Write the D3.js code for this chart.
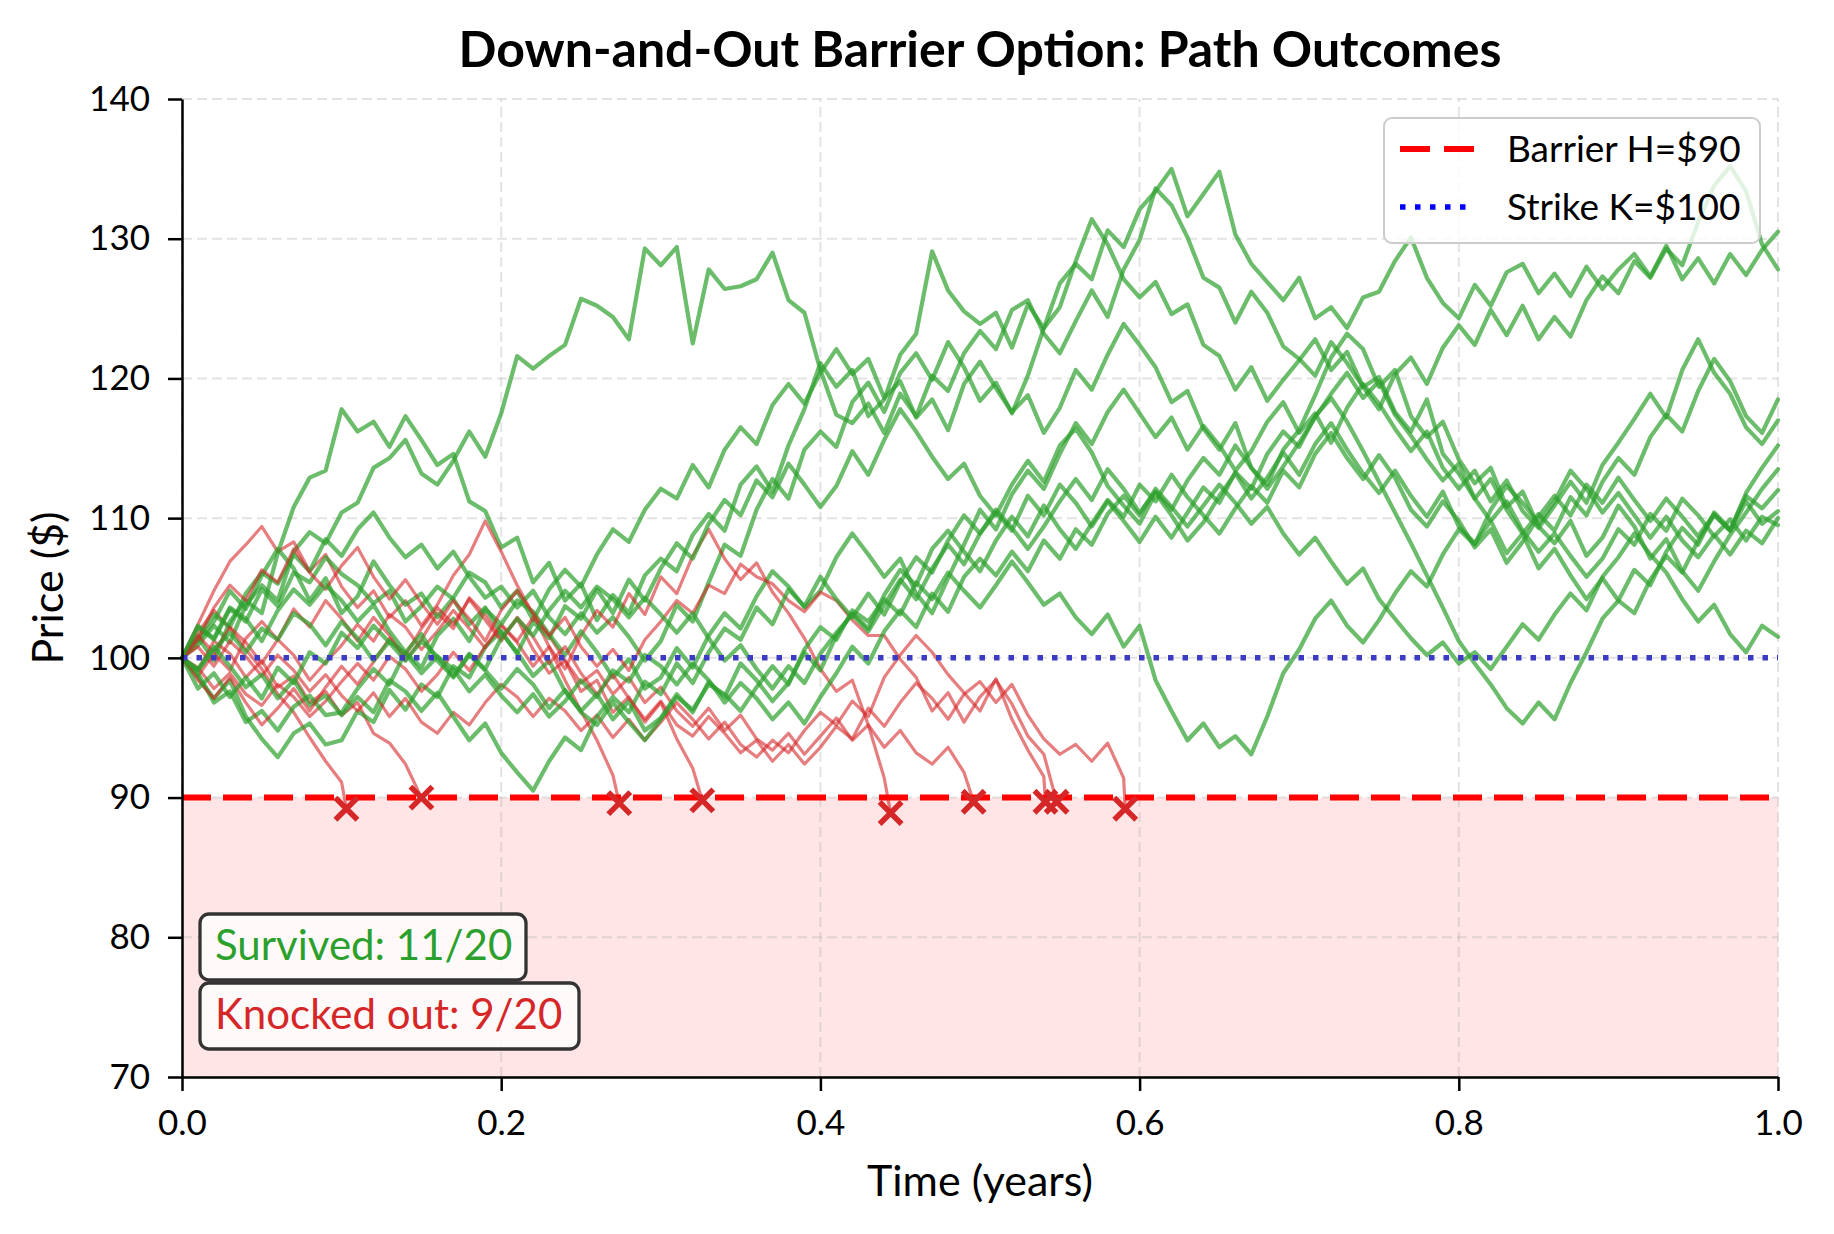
<!DOCTYPE html>
<html>
<head>
<meta charset="utf-8">
<script src="https://cdn.jsdelivr.net/npm/d3@7"></script>
<style>
  body { margin: 0; background: #fff; }
  svg { display: block; font-family: Lato, "DejaVu Sans", sans-serif; }
</style>
</head>
<body>
<svg id="chart"></svg>
<script>
const g1 = [100, 101.5, 99.8, 102.6, 104.1, 103.2, 107.5, 110.8, 112.9, 113.4,
  117.8, 116.2, 116.9, 115.1, 117.3, 115.6, 113.8, 114.6, 111.2, 110.5,
  107.9, 108.6, 105.4, 106.8, 104.1, 105.3, 102.7, 104.5, 103.2, 105.9,
  107.1, 106.2, 108.8, 110.3, 109.1, 112.4, 113.7, 111.9, 115.2, 117.8,
  121.1, 119.4, 120.6, 117.3, 118.5, 121.7, 123.2, 129.1, 126.3, 124.8,
  123.9, 124.7, 122.2, 125.3, 123.6, 126.8, 128.2, 127.1, 130.6, 129.4,
  132.1, 133.4, 135.0, 131.6, 133.2, 134.8, 130.3, 128.2, 126.9, 125.6,
  127.2, 124.3, 125.1, 123.6, 125.8, 126.2, 128.4, 130.1, 127.2, 125.4,
  124.3, 126.7, 125.2, 127.6, 128.2, 126.1, 127.5, 125.9, 128.0, 126.4,
  127.8, 128.9, 127.3, 129.5, 127.1, 128.6, 126.8, 128.9, 127.4, 129.2,
  130.5];
const g2 = [100, 100.9, 102.3, 101.1, 103.8, 105.2, 104.1, 107.6, 109.0, 108.2,
  110.4, 111.1, 113.6, 114.3, 115.6, 113.2, 112.4, 114.1, 116.2, 114.4,
  117.5, 121.6, 120.7, 121.6, 122.4, 125.7, 125.2, 124.4, 122.8, 129.3,
  128.1, 129.4, 122.5, 127.8, 126.4, 126.6, 127.1, 129.0, 125.6, 124.7,
  120.6, 117.4, 116.8, 118.2, 116.1, 118.9, 117.3, 120.2, 119.1, 121.8,
  123.4, 122.1, 124.9, 125.6, 123.2, 121.8, 124.1, 126.3, 124.4, 127.8,
  129.9, 133.6, 132.4, 130.1, 127.2, 126.5, 124.0, 126.2, 124.7, 122.3,
  121.4, 120.2, 122.6, 121.1, 119.4, 117.8, 120.3, 121.5, 119.6, 122.2,
  123.8, 122.4, 124.9, 123.1, 125.2, 122.8, 124.4, 123.0, 125.6, 127.3,
  126.1, 128.4, 127.2, 129.3, 128.1, 131.2, 133.8, 135.2, 133.4, 129.6,
  127.8];
const g3 = [100, 101.4, 103.1, 102.2, 104.6, 106.1, 105.3, 107.4, 106.2, 108.5,
  107.3, 109.2, 110.4, 108.6, 107.2, 108.1, 106.4, 107.6, 105.8, 104.3,
  105.1, 103.6, 104.8, 102.9, 101.7, 103.2, 101.8, 102.9, 101.5, 99.8,
  101.2, 103.8, 102.6, 105.4, 108.1, 107.3, 110.6, 112.8, 111.4, 114.9,
  116.2, 115.1, 118.3, 119.7, 117.6, 120.4, 121.8, 119.9, 122.6, 120.8,
  118.4, 119.7, 117.5, 120.2, 123.6, 125.1, 128.4, 131.4, 129.6, 127.1,
  125.8, 126.9, 124.6, 125.3, 122.4, 121.6, 119.2, 120.8, 118.4, 119.9,
  121.3, 122.8, 120.6, 121.9, 119.4, 120.1, 117.6, 116.2, 118.5, 114.6,
  113.2, 111.4, 112.8, 110.6, 108.9, 110.3, 109.1, 111.5, 110.2, 112.6,
  114.3, 113.1, 115.8, 117.4, 116.2, 119.1, 121.4, 119.8, 117.3, 116.1,
  118.5];
const g4 = [100, 101.2, 102.6, 104.8, 103.5, 105.9, 107.8, 106.4, 104.1, 105.7,
  103.2, 104.4, 106.9, 105.2, 103.8, 104.6, 102.9, 104.3, 106.1, 105.4,
  103.6, 104.8, 102.7, 104.9, 106.3, 105.1, 107.4, 109.2, 108.3, 110.6,
  112.1, 111.4, 113.8, 112.2, 114.9, 116.5, 115.3, 118.1, 119.6, 118.2,
  120.4, 122.1, 120.3, 121.4, 118.6, 119.8, 117.2, 118.5, 116.3, 119.6,
  121.2, 119.3, 117.6, 118.8, 116.1, 117.9, 120.6, 119.2, 121.7, 123.9,
  122.4, 120.8, 118.3, 119.1, 116.4, 114.9, 116.8, 113.6, 112.4, 114.9,
  116.3, 118.8, 121.5, 123.2, 122.1, 119.4, 120.6, 117.3, 115.8, 116.9,
  114.2, 112.5, 113.6, 110.8, 111.9, 109.4, 108.2, 109.8, 107.3, 108.6,
  110.9, 109.4, 107.1, 108.5, 106.2, 104.8, 106.9, 108.8, 110.4, 112.1,
  113.5];
const g5 = [100, 98.6, 97.1, 98.4, 95.8, 94.2, 92.9, 94.6, 95.3, 93.8,
  94.1, 96.2, 95.4, 97.7, 96.3, 98.1, 97.2, 99.4, 98.6, 100.8,
  101.9, 100.3, 102.6, 101.4, 103.7, 102.8, 104.9, 103.2, 105.6, 104.1,
  106.4, 108.2, 107.1, 109.6, 111.3, 110.2, 112.7, 111.5, 113.9, 112.4,
  110.8, 112.3, 114.8, 113.1, 115.6, 117.8, 116.2, 114.4, 112.8, 113.9,
  111.6, 110.2, 112.4, 114.1, 112.6, 115.2, 116.4, 114.7, 112.3, 110.9,
  109.6, 111.8, 110.2, 108.4, 109.7, 111.6, 113.2, 111.4, 112.9, 114.7,
  113.1, 115.3, 116.8, 114.9, 113.2, 111.8, 113.4, 111.6, 110.1, 111.9,
  109.4, 108.2, 109.8, 107.5, 108.9, 106.4, 107.8, 105.9, 104.2, 105.7,
  104.1, 106.3, 105.2, 107.6, 109.3, 108.1, 110.4, 109.2, 111.6, 110.7,
  112.0];
const g6 = [100, 98.9, 96.8, 97.6, 95.4, 96.2, 94.8, 96.5, 97.3, 95.9,
  96.1, 97.8, 99.2, 98.1, 100.4, 99.3, 101.6, 102.8, 101.2, 103.5,
  102.4, 104.1, 103.3, 101.7, 100.2, 101.9, 100.4, 98.6, 99.9, 97.8,
  98.6, 100.7, 99.3, 101.6, 103.2, 102.1, 104.4, 106.2, 105.1, 103.6,
  104.8, 107.2, 108.9, 107.4, 105.8, 107.1, 104.6, 103.2, 105.7, 108.1,
  110.6, 109.2, 111.7, 113.4, 112.1, 114.6, 116.8, 115.3, 117.6, 119.2,
  117.5, 115.8, 117.2, 114.9, 116.6, 115.2, 113.4, 114.8, 116.9, 118.3,
  116.1, 117.5, 115.4, 117.9, 119.6, 118.2, 116.4, 114.8, 116.2, 113.6,
  112.1, 113.4, 111.2, 112.7, 110.5, 109.3, 110.9, 112.6, 111.1, 113.8,
  115.4, 117.1, 118.9, 117.2, 120.6, 122.8, 120.4, 118.9, 116.5, 115.3,
  117.0];
const g7 = [100, 102.2, 101.3, 103.5, 102.6, 104.9, 103.7, 106.1, 105.4, 107.2,
  106.0, 105.2, 103.9, 104.8, 102.6, 103.7, 105.1, 104.2, 102.4, 103.6,
  101.8, 100.4, 98.7, 99.8, 97.6, 96.2, 97.4, 95.6, 96.9, 94.8,
  95.7, 97.4, 96.1, 98.3, 97.2, 99.6, 98.4, 96.9, 98.2, 100.4,
  99.1, 101.6, 103.2, 102.1, 104.5, 106.3, 105.2, 107.8, 109.1, 107.6,
  106.2, 108.4, 110.1, 108.7, 110.9, 109.2, 107.8, 109.6, 111.3, 110.1,
  112.4, 111.2, 113.1, 111.5, 110.2, 108.9, 110.7, 112.3, 111.1, 113.4,
  112.2, 114.6, 116.1, 114.3, 112.8, 114.5, 112.9, 110.6, 109.4, 111.2,
  109.8, 107.9, 109.2, 106.8, 108.3, 110.1, 111.6, 110.2, 112.4, 111.1,
  112.9, 111.3, 109.8, 111.4, 110.1, 108.7, 110.3, 109.1, 111.2, 109.6,
  110.5];
const g8 = [100, 99.2, 100.8, 99.4, 97.9, 98.8, 97.1, 98.4, 96.6, 97.3,
  95.9, 97.2, 96.1, 98.4, 97.6, 96.2, 97.5, 95.8, 94.1, 95.3,
  93.2, 91.8, 90.5, 92.6, 94.3, 93.4, 95.8, 97.2, 96.1, 98.3,
  97.4, 99.6, 98.2, 100.4, 102.1, 101.3, 103.6, 102.4, 104.9, 103.7,
  105.8, 104.2, 102.9, 104.6, 103.1, 105.4, 107.2, 106.1, 108.4, 110.2,
  108.9, 110.6, 109.3, 107.8, 109.4, 111.2, 112.8, 111.3, 113.5, 112.1,
  110.4, 111.9, 110.6, 112.7, 114.3, 113.1, 115.2, 113.6, 112.1, 113.7,
  115.4, 117.2, 118.9, 120.4, 118.6, 119.8, 117.4, 115.9, 114.2, 112.7,
  113.9, 111.4, 109.8, 111.2, 109.1, 107.6, 108.9, 107.3, 105.8, 107.1,
  109.2, 108.1, 110.3, 109.1, 111.4, 110.2, 108.7, 109.9, 108.4, 110.1,
  109.5];
const g9 = [100, 102.3, 101.4, 103.6, 102.8, 101.2, 103.4, 104.9, 103.8, 105.2,
  104.1, 102.6, 103.8, 101.9, 100.4, 101.7, 99.8, 98.6, 100.2, 99.1,
  97.8, 99.2, 98.1, 96.4, 97.7, 96.1, 95.2, 96.8, 95.4, 94.1,
  95.6, 97.2, 96.3, 98.1, 97.4, 96.2, 97.9, 99.4, 98.1, 100.6,
  102.2, 101.3, 103.4, 102.6, 104.2, 103.1, 105.4, 104.2, 106.1, 104.8,
  103.6, 105.2, 106.9, 105.4, 103.8, 104.6, 102.9, 101.7, 103.1, 100.8,
  102.3, 98.4, 96.2, 94.1, 95.3, 93.6, 94.4, 93.1, 95.8, 98.9,
  100.6, 102.8, 104.1, 102.3, 101.1, 102.7, 104.6, 106.2, 105.1, 107.4,
  109.2, 108.1, 110.6, 112.3, 111.1, 109.6, 111.2, 113.4, 112.1, 110.4,
  111.8, 110.2, 108.6, 110.1, 108.4, 107.2, 108.8, 107.4, 109.1, 108.2,
  110.0];
const g10 = [100, 97.8, 98.9, 97.2, 98.6, 97.1, 99.3, 98.2, 100.4, 99.6,
  101.8, 100.7, 102.3, 101.1, 99.8, 101.2, 100.1, 98.7, 100.3, 99.2,
  101.4, 102.8, 101.6, 103.4, 104.8, 103.6, 105.1, 104.2, 102.9, 104.3,
  103.1, 101.8, 103.2, 101.4, 99.8, 100.9, 99.2, 97.8, 99.4, 98.2,
  100.3, 101.8, 103.1, 101.9, 103.8, 105.6, 104.2, 106.4, 108.1, 106.7,
  108.9, 110.4, 109.1, 111.6, 110.2, 112.4, 111.1, 109.4, 111.2, 109.8,
  108.3, 110.1, 108.6, 110.4, 112.2, 111.1, 113.3, 112.1, 114.6, 116.2,
  115.1, 117.3, 118.6, 116.9, 114.8, 112.6, 110.4, 108.2, 105.9, 103.6,
  101.2, 99.6, 98.1, 96.4, 95.3, 96.8, 95.6, 98.2, 100.4, 102.8,
  104.1, 103.2, 105.6, 107.3, 106.1, 108.4, 110.2, 109.1, 111.8, 113.6,
  115.2];
const g11 = [100, 99.1, 100.6, 101.8, 100.4, 102.1, 101.3, 103.2, 102.4, 100.9,
  102.6, 101.4, 99.8, 101.2, 100.3, 98.9, 100.1, 99.2, 97.6, 98.8,
  97.3, 96.1, 97.4, 95.8, 96.9, 98.4, 97.2, 99.1, 98.3, 100.2,
  99.4, 98.1, 99.6, 98.4, 96.8, 98.2, 97.1, 95.6, 96.8, 95.3,
  97.2, 98.9, 100.8, 99.6, 101.9, 103.4, 102.2, 104.6, 103.3, 105.8,
  107.1, 105.9, 107.6, 106.2, 108.4, 107.1, 109.2, 108.1, 110.3, 111.6,
  110.2, 112.1, 110.8, 109.4, 110.9, 112.4, 111.1, 109.6, 110.8, 108.9,
  107.4, 108.6, 106.9, 105.3, 106.4, 104.2, 102.8, 101.4, 100.2, 101.1,
  99.6, 100.4, 99.2, 100.8, 102.4, 101.3, 103.1, 104.6, 103.4, 105.8,
  107.2, 108.9, 107.4, 106.1, 104.2, 102.6, 103.8, 101.7, 100.4, 102.3,
  101.5];

// knocked-out paths, same 0.01 sampling, cut at the barrier hit
const r1 = [100, 101.8, 103.4, 102.1, 100.6, 99.2, 97.4, 96.1, 94.3, 92.6, 91.1];
const r2 = [100, 99.1, 101.2, 100.3, 98.6, 99.8, 97.9, 98.7, 96.8, 97.6, 95.9, 96.8, 94.6, 93.9, 92.4];
const r3 = [100, 102.4, 104.8, 106.9, 108.1, 109.4, 107.6, 108.3, 106.2, 107.4,
  105.1, 103.6, 104.8, 102.9, 104.1, 102.3, 103.8, 105.9, 107.4, 109.8,
  107.6, 105.2, 103.1, 100.8, 98.4, 96.2, 94.1, 91.6];
const r4 = [100, 98.7, 100.3, 99.1, 101.4, 102.6, 101.3, 103.5, 102.2, 104.1,
  102.8, 101.2, 102.9, 101.6, 99.8, 101.3, 103.2, 102.1, 104.3, 103.1,
  101.4, 102.8, 100.6, 98.9, 99.8, 97.6, 98.4, 96.1, 97.2, 95.4,
  96.8, 94.2, 92.1];
const r5 = [100, 101.6, 100.4, 102.2, 101.1, 99.6, 101.3, 100.2, 98.4, 99.7,
  100.9, 102.4, 101.2, 103.1, 102.2, 100.6, 101.9, 103.4, 102.1, 100.7,
  102.3, 101.1, 99.4, 100.8, 99.2, 101.6, 103.4, 102.2, 104.6, 103.1,
  105.8, 104.6, 107.3, 109.2, 107.1, 105.6, 106.8, 104.7, 103.2, 101.4,
  99.2, 97.6, 98.4, 95.2, 91.4];
const r6 = [100, 99.3, 97.8, 98.9, 97.4, 96.6, 98.1, 97.2, 95.8, 96.9,
  98.3, 99.6, 98.4, 100.1, 99.2, 97.6, 98.8, 100.4, 99.1, 100.8,
  102.4, 101.2, 102.9, 101.6, 99.8, 98.2, 99.1, 97.4, 98.6, 96.8,
  97.9, 96.2, 95.1, 96.4, 94.8, 95.9, 94.2, 93.4, 94.6, 93.1,
  94.4, 95.7, 94.1, 95.2, 93.6, 94.8, 93.2, 92.4, 93.6, 91.8];
const r7 = [100, 100.8, 99.4, 101.2, 100.1, 98.7, 100.2, 99.1, 97.6, 98.8,
  97.3, 96.2, 97.5, 95.8, 97.1, 95.4, 94.6, 96.1, 95.2, 96.8,
  98.1, 97.2, 95.8, 97.1, 96.2, 94.8, 95.9, 94.3, 95.6, 94.1,
  95.4, 96.8, 95.6, 94.2, 95.4, 93.8, 92.9, 94.1, 93.2, 94.8,
  96.1, 95.2, 96.9, 95.8, 98.6, 100.2, 101.6, 100.4, 98.8, 97.5,
  96.2, 98.5, 95.6, 93.4, 91.5];
const r8 = [100, 101.3, 103.6, 105.2, 104.1, 106.3, 105.4, 107.8, 106.1, 104.9,
  106.6, 107.9, 105.8, 104.2, 105.6, 103.9, 102.4, 104.1, 102.8, 101.2,
  103.4, 104.8, 103.2, 101.6, 102.9, 100.8, 99.4, 100.6, 99.1, 101.3,
  102.6, 104.1, 103.2, 105.2, 104.6, 106.7, 105.8, 105.3, 104.1, 103.3,
  104.7, 104.1, 102.7, 101.6, 101.6, 99.9, 98.6, 96.2, 97.5, 95.4,
  97.2, 98.4, 96.7, 94.4, 93.1];
const r9 = [100, 98.4, 97.1, 98.6, 96.8, 95.2, 96.4, 97.8, 96.2, 97.9,
  99.4, 98.1, 99.7, 101.4, 100.2, 102.1, 103.6, 102.4, 104.2, 102.7,
  101.2, 102.9, 101.5, 99.6, 100.8, 98.9, 97.4, 98.8, 97.1, 95.6,
  96.9, 95.2, 94.4, 95.8, 94.6, 93.2, 94.1, 92.6, 93.8, 92.4,
  93.6, 95.1, 94.2, 96.4, 95.1, 96.8, 98.2, 97.1, 95.6, 97.4,
  98.3, 96.8, 98.1, 95.9, 94.2, 93.1, 93.8, 92.6, 93.9, 91.4];

const koTimes = [0.103, 0.150, 0.274, 0.326, 0.444, 0.496, 0.541, 0.548, 0.591];
const koPrices = [89.2, 90.0, 89.6, 89.8, 88.9, 89.7, 89.7, 89.7, 89.2];

const survived = [g1, g2, g3, g4, g5, g6, g7, g8, g9, g10, g11];
const knocked = [r1, r2, r3, r4, r5, r6, r7, r8, r9];

const barrier = 90, strike = 100, nPaths = 20;
const xTicks = [0, 0.2, 0.4, 0.6, 0.8, 1.0];
const yTicks = [70, 80, 90, 100, 110, 120, 130, 140];

const width = 1834, height = 1234;
const margin = { top: 99, right: 56, bottom: 157, left: 182 };

const svg = d3.select("#chart")
    .attr("width", width)
    .attr("height", height)
    .attr("viewBox", `0 0 ${width} ${height}`);

svg.append("rect").attr("width", width).attr("height", height).attr("fill", "#fff");

const x = d3.scaleLinear().domain([0, 1]).range([margin.left, width - margin.right]);
const y = d3.scaleLinear().domain([70, 140]).range([height - margin.bottom, margin.top]);

// knock-out zone below the barrier
svg.append("rect")
    .attr("x", x(0))
    .attr("y", y(barrier))
    .attr("width", x(1) - x(0))
    .attr("height", y(70) - y(barrier))
    .attr("fill", "#ff0000")
    .attr("fill-opacity", 0.1);

// grid
const grid = svg.append("g")
    .attr("stroke", "#b0b0b0")
    .attr("stroke-opacity", 0.35)
    .attr("stroke-width", 2)
    .attr("stroke-dasharray", "10,5");
grid.selectAll(".gx").data(xTicks).join("line")
    .attr("x1", d => x(d)).attr("x2", d => x(d))
    .attr("y1", y(70)).attr("y2", y(140));
grid.selectAll(".gy").data(yTicks).join("line")
    .attr("x1", x(0)).attr("x2", x(1))
    .attr("y1", d => y(d)).attr("y2", d => y(d));

// paths
const line = d3.line()
    .x(d => x(d[0]))
    .y(d => y(d[1]));

const pathLayer = svg.append("g")
    .attr("fill", "none")
    .attr("stroke-linejoin", "round")
    .attr("stroke-linecap", "round");

const drawOrder = [];
for (let i = 0; i < Math.max(survived.length, knocked.length); i++) {
    if (i < knocked.length) drawOrder.push({ type: "ko", idx: i });
    if (i < survived.length) drawOrder.push({ type: "ok", idx: i });
}

drawOrder.forEach(p => {
    if (p.type === "ok") {
        const pts = survived[p.idx].map((v, i) => [i / 100, v]);
        pathLayer.append("path")
            .attr("d", line(pts))
            .attr("stroke", "#2ca02c")
            .attr("stroke-opacity", 0.7)
            .attr("stroke-width", 4.2);
    } else {
        const pts = knocked[p.idx].map((v, i) => [i / 100, v]);
        pts.push([koTimes[p.idx], koPrices[p.idx]]);
        pathLayer.append("path")
            .attr("d", line(pts))
            .attr("stroke", "#d62728")
            .attr("stroke-opacity", 0.6)
            .attr("stroke-width", 3.2);
    }
});

// barrier and strike
svg.append("line")
    .attr("x1", x(0)).attr("x2", x(1))
    .attr("y1", y(barrier)).attr("y2", y(barrier))
    .attr("stroke", "#ff0000")
    .attr("stroke-width", 6)
    .attr("stroke-dasharray", "29,12");

svg.append("line")
    .attr("x1", x(0)).attr("x2", x(1))
    .attr("y1", y(strike)).attr("y2", y(strike))
    .attr("stroke", "#3b3bc4")
    .attr("stroke-width", 5.5)
    .attr("stroke-dasharray", "5.5,9");

// knock-out markers
const mk = 11;
const markers = svg.append("g")
    .attr("stroke", "#d62728")
    .attr("stroke-width", 5.5);
koTimes.forEach((t, i) => {
    const cx = x(t), cy = y(koPrices[i]);
    markers.append("path")
        .attr("d", `M${cx - mk},${cy - mk}L${cx + mk},${cy + mk}M${cx - mk},${cy + mk}L${cx + mk},${cy - mk}`);
});

// axes
const xAxis = svg.append("g")
    .attr("transform", `translate(0,${y(70)})`)
    .call(d3.axisBottom(x).tickValues(xTicks).tickFormat(d3.format(".1f")).tickSize(14).tickSizeOuter(0).tickPadding(19));
const yAxis = svg.append("g")
    .attr("transform", `translate(${x(0)},0)`)
    .call(d3.axisLeft(y).tickValues(yTicks).tickSize(14).tickSizeOuter(0).tickPadding(18));

[xAxis, yAxis].forEach(a => {
    a.select(".domain").attr("stroke", "#000").attr("stroke-width", 2.5);
    a.selectAll(".tick line").attr("stroke", "#000").attr("stroke-width", 2.5);
    a.selectAll(".tick text")
        .attr("fill", "#000")
        .style("font-family", "Lato, 'DejaVu Sans', sans-serif")
        .style("font-size", "35px");
});

// title and labels
svg.append("text")
    .attr("x", (x(0) + x(1)) / 2)
    .attr("y", 67)
    .attr("text-anchor", "middle")
    .style("font-size", "50px")
    .style("font-weight", "bold")
    .text("Down-and-Out Barrier Option: Path Outcomes");

svg.append("text")
    .attr("x", (x(0) + x(1)) / 2)
    .attr("y", 1196)
    .attr("text-anchor", "middle")
    .style("font-size", "43px")
    .text("Time (years)");

svg.append("text")
    .attr("transform", `translate(63,${(y(70) + y(140)) / 2}) rotate(-90)`)
    .attr("text-anchor", "middle")
    .style("font-size", "43px")
    .text("Price ($)");

// legend
const legend = svg.append("g");
legend.append("rect")
    .attr("x", 1384).attr("y", 118)
    .attr("width", 376).attr("height", 125)
    .attr("rx", 8)
    .attr("fill", "#fff").attr("fill-opacity", 0.8)
    .attr("stroke", "#cccccc").attr("stroke-width", 2);
legend.append("line")
    .attr("x1", 1400).attr("x2", 1475).attr("y1", 149).attr("y2", 149)
    .attr("stroke", "#ff0000").attr("stroke-width", 6).attr("stroke-dasharray", "30,14");
legend.append("line")
    .attr("x1", 1400).attr("x2", 1475).attr("y1", 207).attr("y2", 207)
    .attr("stroke", "#0000ff").attr("stroke-width", 5.5).attr("stroke-dasharray", "5.5,9.5");
legend.append("text").attr("x", 1507).attr("y", 162).style("font-size", "37px").text(`Barrier H=$${barrier}`);
legend.append("text").attr("x", 1507).attr("y", 220).style("font-size", "37px").text(`Strike K=$${strike}`);

// outcome counts
const counts = [
    { label: `Survived: ${survived.length}/${nPaths}`, color: "#2ca02c", y: 914, w: 326 },
    { label: `Knocked out: ${knocked.length}/${nPaths}`, color: "#d62728", y: 983, w: 379 }
];
counts.forEach(c => {
    svg.append("rect")
        .attr("x", 200).attr("y", c.y)
        .attr("width", c.w).attr("height", 66)
        .attr("rx", 9)
        .attr("fill", "#fff").attr("fill-opacity", 0.8)
        .attr("stroke", "#333").attr("stroke-width", 3.3);
    svg.append("text")
        .attr("x", 215).attr("y", c.y + 46)
        .attr("fill", c.color)
        .style("font-size", "42px")
        .text(c.label);
});
</script>
</body>
</html>
